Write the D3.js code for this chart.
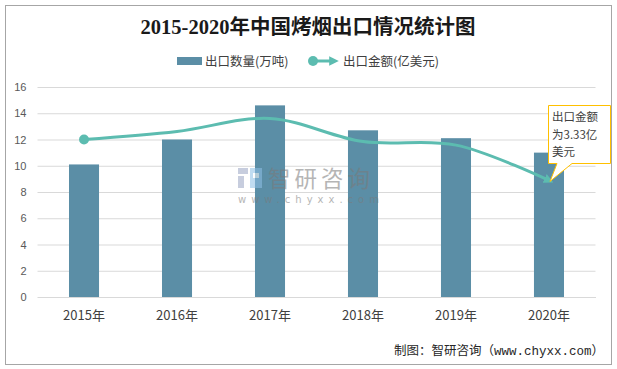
<!DOCTYPE html>
<html><head><meta charset="utf-8">
<script src="https://cdn.jsdelivr.net/npm/d3@7"></script>
<style>html,body{margin:0;padding:0;background:#fff;}svg{display:block;}</style>
</head><body>
<script>
const years = ["2015年","2016年","2017年","2018年","2019年","2020年"];
const volume = [10.1, 12.0, 14.6, 12.7, 12.1, 11.0];        // 出口数量(万吨)
const amount = [4.50, 4.73, 5.10, 4.44, 4.34, 3.33];        // 出口金额(亿美元)
const yTicks = [0,2,4,6,8,10,12,14,16];
const title = "2015-2020年中国烤烟出口情况统计图";
const legendNames = ["出口数量(万吨)","出口金额(亿美元)"];
const calloutLines = ["出口金额","为3.33亿","美元"];
const footer = "制图：智研咨询（www.chyxx.com）";

const W=617,H=369;
const svg=d3.select("body").append("svg").attr("width",W).attr("height",H);
const defs=svg.append("defs");
defs.append("marker").attr("id","arr").attr("viewBox","0 0 10 10").attr("refX",5).attr("refY",5)
  .attr("markerWidth",3.2).attr("markerHeight",3.2).attr("orient","auto").attr("markerUnits","strokeWidth")
  .append("path").attr("d","M0,0 L10,5 L0,10 z").attr("fill","#5cbcb0");

svg.append("rect").attr("x",5.5).attr("y",5.5).attr("width",606).attr("height",359).attr("fill","#fff").attr("stroke","#a6a6a6").attr("stroke-width",1);

svg.append("text").attr("x",308).attr("y",34).attr("text-anchor","middle")
  .attr("font-family","'Liberation Serif','Noto Sans CJK SC'").attr("font-weight","bold")
  .attr("font-size",20.5).attr("fill","#1a1a1a").text(title);

const x=d3.scaleBand().domain(years).range([37.5,595.5]).paddingInner(0.677).paddingOuter(0.3387);
const y=d3.scaleLinear().domain([0,16]).range([297,87]);
const y2=d3.scaleLinear().domain([0,6]).range([297,87]);

// grid + y axis
const ga=svg.append("g").attr("transform","translate(37.5,0)")
  .call(d3.axisLeft(y).tickValues(yTicks).tickSize(-558).tickPadding(11));
ga.select(".domain").remove();
ga.selectAll("line").attr("stroke","#d9d9d9");
ga.selectAll("text").attr("font-family","'Liberation Sans',Arial").attr("font-size",11).attr("fill","#595959");

// x axis
const gx=svg.append("g").attr("transform","translate(0,297)")
  .call(d3.axisBottom(x).tickSize(0).tickPadding(14));
gx.select(".domain").attr("stroke","#d9d9d9");
gx.selectAll("text").attr("font-family","'Noto Sans CJK SC'").attr("font-size",13).attr("fill","#404040");

// bars
svg.append("g").selectAll("rect").data(volume).join("rect")
  .attr("x",(d,i)=>x(years[i])).attr("width",x.bandwidth())
  .attr("y",d=>y(d)).attr("height",d=>y(0)-y(d)).attr("fill","#5b8ea6");

// watermark
const wm=svg.append("g").attr("opacity",0.55);
wm.append("rect").attr("x",238).attr("y",168).attr("width",10).attr("height",6).attr("fill","#9aa6c4");
wm.append("rect").attr("x",238).attr("y",176).attr("width",6).attr("height",12).attr("fill","#9aa6c4");
wm.append("rect").attr("x",250).attr("y",168).attr("width",12).attr("height",20).attr("fill","#8ec0e6");
wm.append("rect").attr("x",253).attr("y",173).attr("width",6).attr("height",5).attr("fill","#fff");
wm.append("text").attr("x",268).attr("y",187).attr("font-family","'Noto Sans CJK SC'").attr("font-size",22.5)
  .attr("letter-spacing",4).attr("fill","#7a7a7a").text("智研咨询");
wm.append("text").attr("x",238).attr("y",203).attr("font-family","'DejaVu Sans'").attr("font-size",10)
  .attr("letter-spacing",5).attr("fill","#7a7a7a").text("www.chyxx.com");

// line
const pts=amount.map((d,i)=>[x(years[i])+x.bandwidth()/2,y2(d)]);
svg.append("path").datum(pts).attr("fill","none").attr("stroke","#5cbcb0").attr("stroke-width",3)
  .attr("stroke-linecap","round").attr("marker-end","url(#arr)")
  .attr("d",d3.line().curve(d3.curveCatmullRom.alpha(0.5)));
svg.append("circle").attr("cx",pts[0][0]).attr("cy",pts[0][1]).attr("r",5).attr("fill","#5cbcb0");

// callout
const cx=pts[5][0], cy=pts[5][1];
svg.append("path").attr("d",`M548.5,105.5 H610.5 V163.5 H572 L${cx+1},${cy+1} L557,163.5 H548.5 Z`)
  .attr("fill","#fff").attr("stroke","#ffc000").attr("stroke-width",1);
svg.append("g").selectAll("text").data(calloutLines).join("text")
  .attr("x",552).attr("y",(d,i)=>121+i*17.5).attr("font-family","'Noto Sans CJK SC'")
  .attr("font-size",11.5).attr("fill","#404040").text(d=>d);

// legend
const lg=svg.append("g");
lg.append("rect").attr("x",177).attr("y",57).attr("width",25).attr("height",8).attr("fill","#5b8ea6");
lg.append("text").attr("x",205).attr("y",65.5).attr("font-family","'Noto Sans CJK SC'").attr("font-size",12.5).attr("fill","#404040").text(legendNames[0]);
lg.append("line").attr("x1",313).attr("x2",334).attr("y1",61).attr("y2",61).attr("stroke","#5cbcb0").attr("stroke-width",3).attr("marker-end","url(#arr)");
lg.append("circle").attr("cx",313).attr("cy",61).attr("r",5).attr("fill","#5cbcb0");
lg.append("text").attr("x",343).attr("y",65.5).attr("font-family","'Noto Sans CJK SC'").attr("font-size",12.5).attr("fill","#404040").text(legendNames[1]);

// footer
svg.append("text").attr("x",604).attr("y",355).attr("text-anchor","end")
  .attr("font-family","'Liberation Mono','Noto Sans CJK SC'").attr("font-size",12.5).attr("fill","#262626").text(footer);
</script>
</body></html>
